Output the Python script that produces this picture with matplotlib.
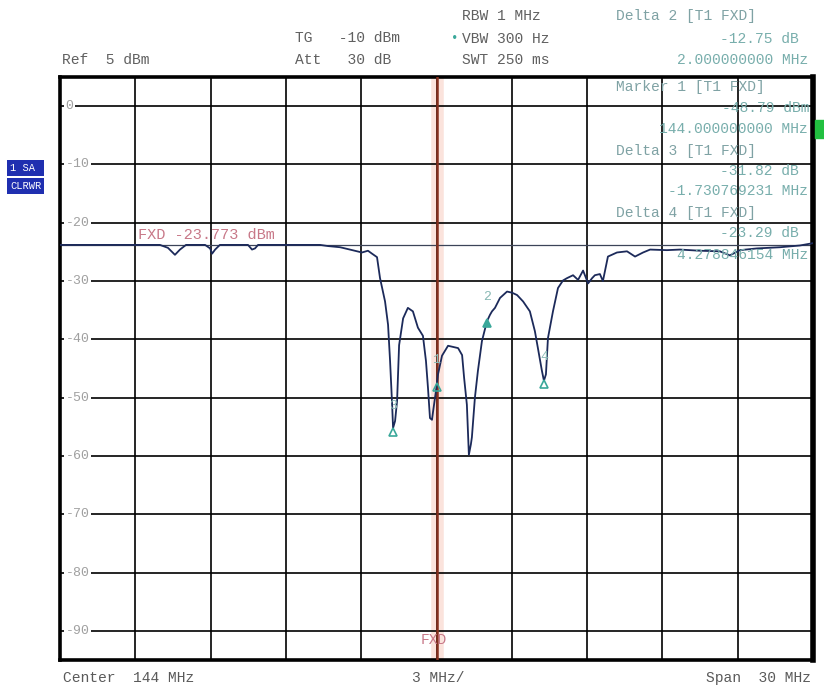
import matplotlib
matplotlib.use('Agg')
import matplotlib.pyplot as plt
from matplotlib.patches import Rectangle

# trace (MHz, dBm)
freq_mhz = [129.00, 130.59, 132.98, 133.30, 133.58, 133.78, 134.02, 134.78, 134.98, 135.06,
            135.18, 135.37, 136.49, 136.65, 136.77, 136.89, 139.36, 139.68, 140.16, 140.55,
            141.03, 141.27, 141.43, 141.63, 141.75, 141.95, 142.07, 142.15, 142.23, 142.27,
            142.35, 142.43, 142.51, 142.67, 142.86, 143.06, 143.26, 143.46, 143.58, 143.66,
            143.74, 143.82, 143.86, 143.98, 144.06, 144.22, 144.46, 144.86, 145.02, 145.10,
            145.21, 145.29, 145.37, 145.41, 145.53, 145.65, 145.81, 146.01, 146.13, 146.21,
            146.33, 146.53, 146.81, 147.01, 147.21, 147.45, 147.72, 147.92, 148.04, 148.20,
            148.28, 148.36, 148.44, 148.64, 148.84, 149.04, 149.20, 149.44, 149.64, 149.84,
            150.04, 150.20, 150.31, 150.51, 150.63, 150.83, 151.19, 151.59, 151.91, 152.23,
            152.51, 153.18, 153.70, 154.50, 155.29, 155.69, 156.09, 156.77, 157.69, 158.48,
            159.00]
level_dbm = [-23.8, -23.8, -23.8, -24.3, -25.5, -24.6, -23.8, -23.8, -24.4, -25.3,
             -24.6, -23.8, -23.8, -24.6, -24.4, -23.8, -23.8, -24.0, -24.2, -24.6,
             -25.1, -24.8, -25.3, -25.9, -29.5, -33.5, -37.5, -43.7, -51.0, -55.2,
             -54.0, -50.5, -41.0, -36.4, -34.6, -35.2, -38.0, -39.4, -43.7, -48.3,
             -53.5, -53.8, -52.5, -48.8, -46.0, -42.8, -41.1, -41.5, -42.7, -46.6,
             -51.2, -59.8, -58.0, -56.8, -50.0, -45.4, -40.3, -36.9, -35.8, -35.2,
             -34.6, -32.9, -31.8, -32.0, -32.4, -33.5, -35.2, -38.6, -41.5, -45.4,
             -47.1, -46.0, -39.8, -35.2, -31.2, -29.9, -29.5, -29.0, -29.8, -28.2,
             -30.4, -29.5, -29.0, -28.8, -30.0, -25.8, -25.1, -24.9, -25.8, -25.1,
             -24.6, -24.7, -24.6, -24.8, -24.9, -25.6, -24.7, -24.4, -24.2, -23.9,
             -23.5]

marker_names = ['1', '2', '3', '4']
marker_freq = [144.0, 146.0, 142.27, 148.28]
marker_level = [-47.8, -36.9, -55.6, -47.3]

y_ticks = [0, -10, -20, -30, -40, -50, -60, -70, -80, -90]
display_line = -23.773
center_mhz = 144
span_mhz = 30
ref_dbm = 5

header_left = [("Ref  5 dBm", 62, 60), ("TG   -10 dBm", 295, 38), ("Att   30 dB", 295, 60),
               ("RBW 1 MHz", 462, 16), ("VBW 300 Hz", 462, 39), ("SWT 250 ms", 462, 60)]
marker_titles = [("Delta 2 [T1 FXD]", 616, 16), ("Marker 1 [T1 FXD]", 616, 87),
                 ("Delta 3 [T1 FXD]", 616, 151), ("Delta 4 [T1 FXD]", 616, 213)]
marker_values = [("-12.75 dB", 799, 39), ("2.000000000 MHz", 808, 60), ("-48.79 dBm", 810, 108),
                 ("144.000000000 MHz", 808, 129), ("-31.82 dB", 799, 171),
                 ("-1.730769231 MHz", 808, 191), ("-23.29 dB", 799, 233),
                 ("4.278846154 MHz", 808, 255)]

plt.rcParams['font.family'] = ['Liberation Mono', 'DejaVu Sans Mono']

W, H = 824, 688
fig = plt.figure(figsize=(W / 100, H / 100), dpi=100)
ax = fig.add_axes([60 / W, 1 - 660 / H, 753 / W, 583 / H])
lo = center_mhz - span_mhz / 2
hi = center_mhz + span_mhz / 2
ax.set_xlim(lo, hi)
ax.set_ylim(ref_dbm - 100, ref_dbm)
ax.set_xticks([])
ax.set_yticks([])
for s in ax.spines.values():
    s.set_linewidth(2.6)
ax.spines['right'].set_linewidth(4)

# frequency line glow (under the grid)
ax.axvline(center_mhz, color='#fbe3dc', lw=9, zorder=0.5)

# grid
div = span_mhz / 10
for k in range(1, 10):
    ax.axvline(lo + k * div, color='black', lw=1.2, zorder=1)
for v in y_ticks:
    ax.axhline(v, color='black', lw=1.2, zorder=1)
    ax.text(lo + 0.22, v, str(v), fontsize=9.5, color='#a0a0a0',
            va='center', ha='left', zorder=2,
            bbox=dict(facecolor='white', edgecolor='none', pad=1.2))

ax.axvline(center_mhz, color='#86301e', lw=1.8, zorder=3)

# display line
ax.axhline(display_line, color='#3c4458', lw=0.9, zorder=2)
ax.text(132.1, display_line + 0.4, 'FXD -23.773 dBm', fontsize=11, color='#c87888',
        va='bottom', ha='left', zorder=2)
ax.text(143.9, -91.5, 'FXD', fontsize=10.5, color='#c87888', ha='center', va='center', zorder=4)

# trace
ax.plot(freq_mhz, level_dbm, color='#1c2a5a', lw=1.3, zorder=4)

# markers
for name, f, l in zip(marker_names, marker_freq, marker_level):
    filled = name == '2'
    ax.plot(f, l - 0.3, marker='^', ms=6, mec='#3aa89a',
            mfc='#3aa89a' if filled else 'none', mew=1.2, zorder=5)
    ax.text(f, l + 3.2, name, fontsize=9.5, color='#88b8b4', ha='center', va='bottom', zorder=5)

# header text
for txt, x, y in header_left:
    fig.text(x / W, 1 - y / H, txt, fontsize=10.5, color='#606060', va='center', ha='left')
fig.text(451 / W, 1 - 39 / H, '•', fontsize=9, color='#3aa89a', va='center', ha='left')
for txt, x, y in marker_titles:
    fig.text(x / W, 1 - y / H, txt, fontsize=10.5, color='#7fa2a4', va='center', ha='left')
for txt, x, y in marker_values:
    fig.text(x / W, 1 - y / H, txt, fontsize=10.5, color='#78aeac', va='center', ha='right')

# bottom text
fig.text(63 / W, 1 - 678 / H, 'Center  144 MHz', fontsize=10.5, color='#5a5a5a', va='center')
fig.text(438 / W, 1 - 678 / H, '3 MHz/', fontsize=10.5, color='#5a5a5a', va='center', ha='center')
fig.text(811 / W, 1 - 678 / H, 'Span  30 MHz', fontsize=10.5, color='#5a5a5a', va='center', ha='right')

# trace labels on the left
fig.text(10 / W, 1 - 168 / H, '1 SA ', fontsize=7.5, color='white', va='center', ha='left',
         bbox=dict(facecolor='#1f2fb0', edgecolor='none', pad=2))
fig.text(10 / W, 1 - 186 / H, 'CLRWR', fontsize=7.5, color='white', va='center', ha='left',
         bbox=dict(facecolor='#1f2fb0', edgecolor='none', pad=2))

fig.patches.append(Rectangle((815 / W, 1 - 138 / H), 9 / W, 18 / H, color='#22c040',
                             transform=fig.transFigure))

fig.savefig('out.png', dpi=100)
